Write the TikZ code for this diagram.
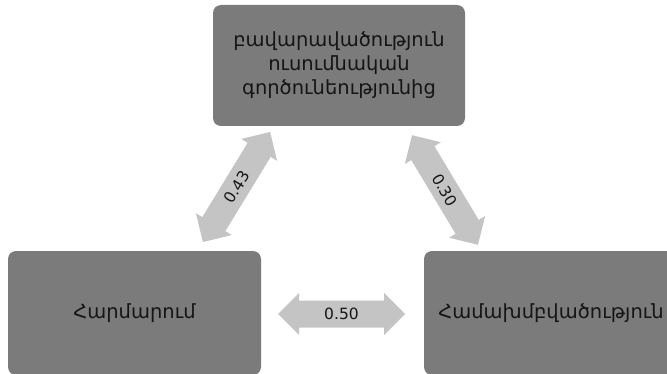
\documentclass[tikz,border=0pt]{standalone}
\usepackage{fontspec}
\setmainfont{DejaVu Sans}
\definecolor{boxgray}{HTML}{7B7B7B}
\definecolor{arrgray}{HTML}{C4C4C4}
\definecolor{txt}{HTML}{151515}
\tikzset{
  box/.style={rectangle, rounded corners=8pt, fill=boxgray, text=txt,
    align=center, font=\fontsize{19.5}{24}\selectfont, inner sep=0pt},
  arrlabel/.style={text=txt, inner sep=0pt, font=\fontsize{15.5}{17}\selectfont},
  arrfill/.style={fill=arrgray}
}
% #1 name, #2 x, #3 y, #4 angle, #5 length, #6 label
\newcommand{\dblblockarrow}[6]{%
  \begin{scope}[shift={(#2,#3)}, rotate=#4]
    \fill[arrfill] ({-#5/2},0) -- ({-#5/2+21},21) -- ({-#5/2+21},13.5)
      -- ({#5/2-21},13.5) -- ({#5/2-21},21) -- ({#5/2},0)
      -- ({#5/2-21},-21) -- ({#5/2-21},-13.5) -- ({-#5/2+21},-13.5)
      -- ({-#5/2+21},-21) -- cycle;
    \node[arrlabel, transform shape] (#1) at (0,0) {#6};
  \end{scope}}
\begin{document}
\begin{tikzpicture}[x=1pt,y=1pt]
\useasboundingbox (0,0) rectangle (667,373);
\clip (0,0) rectangle (667,373);
\node[box, minimum width=252pt, minimum height=121pt] (top) at (339,307.5)
  {բավարավածություն\\ուսումնական\\գործունեությունից};
\node[box, minimum width=253pt, minimum height=124pt] (left) at (134.5,60) {Հարմարում};
\node[box, minimum width=254pt, minimum height=124pt] (right) at (551,60) {Համախմբվածություն};
\dblblockarrow{lr}{341.5}{59}{0}{127}{0.50}
\dblblockarrow{lt}{236.5}{186}{58.6}{129}{0.43}
\dblblockarrow{rt}{445}{183}{-59}{128}{0.30}
\end{tikzpicture}
\end{document}
